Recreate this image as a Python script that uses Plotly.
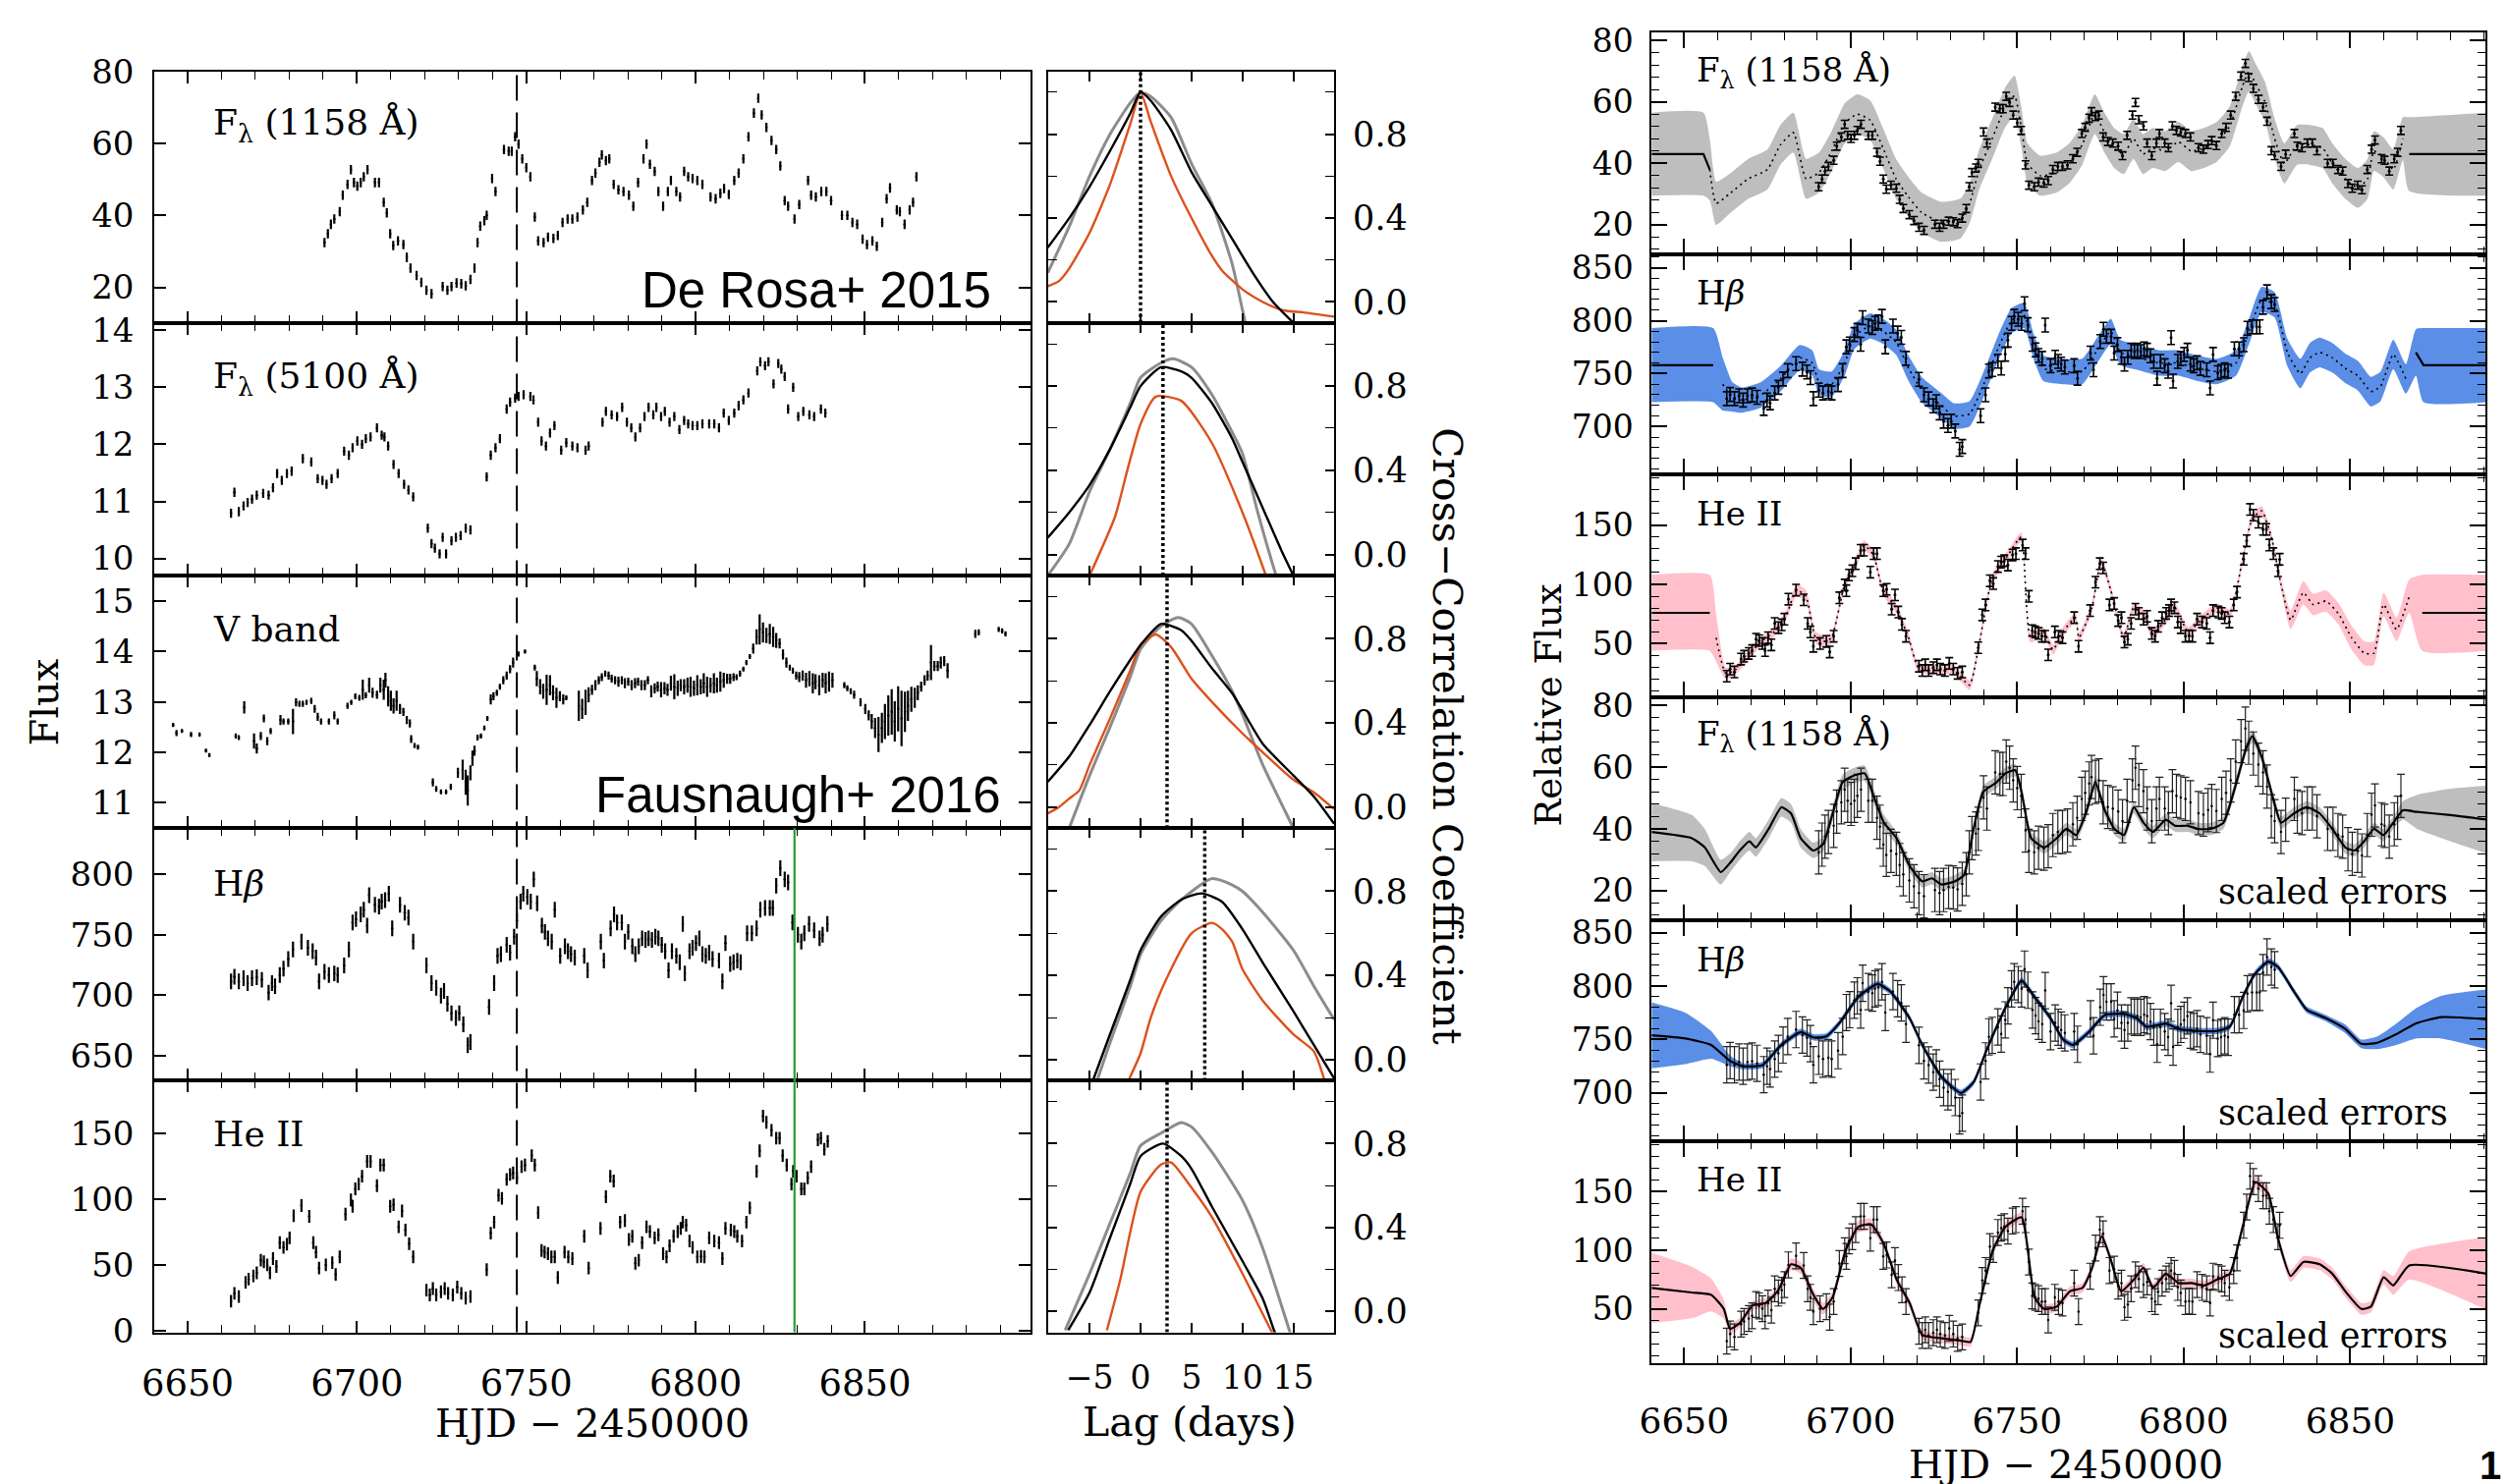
import plotly.graph_objects as go

W, H = 2553, 1511
SERIF = "DejaVu Serif"
SANS = "Liberation Sans"

# ---------------- light curves (left column) ----------------
F1158_HJD = [6690.4, 6691.4, 6692.3, 6693.3, 6694.9, 6695.8, 6697.2, 6698.2, 6699.1, 6700.1,
             6701.1, 6702.0, 6703.1, 6705.3, 6706.5, 6707.9, 6708.8, 6709.8, 6710.7, 6712.1,
             6713.7, 6714.7, 6715.8, 6717.6, 6719.0, 6720.5, 6722.0, 6725.3, 6726.7, 6727.9,
             6729.4, 6730.8, 6732.1, 6733.5, 6734.7, 6735.6, 6736.4, 6737.6, 6738.3, 6739.9,
             6740.9, 6743.4, 6744.8, 6745.7, 6746.7, 6747.7, 6748.8, 6750.0, 6751.2, 6752.5,
             6753.5, 6755.1, 6756.4, 6758.0, 6759.3, 6760.7, 6762.2, 6763.6, 6765.1, 6766.7,
             6768.0, 6769.4, 6770.4, 6771.6, 6772.3, 6773.5, 6774.5, 6775.8, 6777.2, 6778.7,
             6780.3, 6781.6, 6783.0, 6784.6, 6785.5, 6786.5, 6787.9, 6789.0, 6790.4, 6791.8,
             6792.7, 6794.3, 6795.4, 6796.6, 6797.8, 6799.1, 6800.5, 6802.0, 6804.4, 6805.9,
             6807.3, 6808.4, 6809.8, 6811.4, 6812.7, 6814.1, 6815.6, 6817.2, 6818.5, 6819.5,
             6820.9, 6822.4, 6823.8, 6825.0, 6826.3, 6827.3, 6829.2, 6830.6, 6833.2, 6834.1,
             6835.5, 6837.1, 6838.6, 6840.0, 6843.2, 6844.8, 6846.3, 6847.7, 6849.3, 6850.6,
             6852.2, 6853.5, 6855.1, 6856.4, 6857.4, 6859.4, 6860.3, 6861.7, 6863.2, 6864.2,
             6865.2]
F1158_FLUX = [32.4, 34.9, 37.5, 39.0, 41.0, 45.6, 48.6, 52.7, 49.1, 48.1,
              49.1, 50.7, 52.7, 49.1, 49.1, 43.6, 40.7, 34.9, 31.6, 32.9,
              31.9, 28.3, 25.3, 23.3, 21.4, 19.2, 18.2, 20.2, 19.2, 20.2,
              21.2, 21.0, 20.4, 22.2, 25.3, 32.4, 37.0, 38.5, 40.0, 50.2,
              46.6, 58.3, 57.8, 57.8, 61.8, 59.8, 55.7, 53.2, 50.7, 39.5,
              32.9, 32.4, 33.9, 33.6, 34.4, 38.0, 39.0, 39.0, 39.5, 41.5,
              43.6, 49.7, 51.7, 54.7, 56.8, 55.2, 55.7, 48.6, 47.1, 46.6,
              45.6, 42.5, 49.1, 55.7, 59.8, 54.2, 52.2, 46.6, 42.5, 46.6,
              49.7, 46.6, 45.1, 52.2, 50.7, 50.2, 49.7, 48.6, 45.1, 44.6,
              46.1, 47.4, 45.8, 49.7, 51.7, 55.7, 61.8, 68.4, 72.5, 67.9,
              64.4, 60.8, 58.3, 53.7, 44.1, 42.5, 39.0, 43.0, 49.7, 45.6,
              45.1, 46.6, 46.6, 44.1, 40.0, 40.0, 38.0, 37.5, 33.4, 31.9,
              32.9, 31.4, 38.0, 44.6, 47.6, 41.5, 41.0, 37.5, 41.5, 43.6,
              50.7]
F1158_ERR = 1.3
F1158_ERR_SCALED = 7.0

F5100_HJD = [6662.8, 6663.8, 6665.1, 6666.5, 6667.7, 6669.0, 6670.4, 6672.3, 6673.9, 6675.2,
             6676.4, 6677.8, 6679.3, 6680.7, 6684.0, 6686.5, 6688.4, 6689.8, 6691.0, 6692.5,
             6694.3, 6696.2, 6697.6, 6698.7, 6700.1, 6701.5, 6702.6, 6704.0, 6705.9, 6707.3,
             6708.1, 6709.2, 6710.8, 6712.3, 6713.9, 6715.2, 6716.6, 6720.9, 6722.0, 6723.0,
             6724.4, 6725.3, 6726.3, 6727.9, 6729.2, 6730.6, 6732.1, 6733.5, 6738.3, 6739.5,
             6740.9, 6742.2, 6744.2, 6745.2, 6746.7, 6747.7, 6749.2, 6751.2, 6752.1, 6753.5,
             6754.5, 6755.8, 6757.0, 6758.3, 6760.3, 6761.8, 6763.6, 6765.1, 6767.5, 6768.4,
             6772.5, 6773.5, 6775.2, 6776.8, 6778.3, 6779.7, 6781.0, 6782.2, 6783.6, 6784.9,
             6786.1, 6787.5, 6788.4, 6789.8, 6790.9, 6792.3, 6793.7, 6795.2, 6796.6, 6797.8,
             6799.1, 6800.5, 6802.0, 6804.0, 6805.5, 6806.9, 6808.3, 6809.8, 6811.4, 6812.7,
             6814.1, 6815.6, 6818.2, 6819.1, 6820.5, 6821.5, 6823.0, 6824.4, 6825.3, 6826.3,
             6827.3, 6828.8, 6830.3, 6831.8, 6833.6, 6835.0, 6837.0, 6838.3]
F5100_FLUX = [10.79, 11.16, 10.82, 10.92, 10.98, 11.04, 11.11, 11.14, 11.11, 11.24,
              11.49, 11.37, 11.49, 11.53, 11.75, 11.69, 11.40, 11.37, 11.30, 11.40,
              11.49, 11.88, 11.81, 11.94, 12.06, 12.00, 12.10, 12.13, 12.29, 12.16,
              12.13, 11.97, 11.65, 11.49, 11.30, 11.20, 11.08, 10.53, 10.26, 10.18,
              10.08, 10.37, 10.08, 10.31, 10.37, 10.40, 10.53, 10.50, 11.43, 11.81,
              11.94, 12.10, 12.62, 12.74, 12.81, 12.84, 12.87, 12.84, 12.78, 12.39,
              12.06, 11.97, 12.20, 12.33, 11.90, 12.03, 11.97, 11.94, 11.90, 11.97,
              12.39, 12.58, 12.52, 12.49, 12.65, 12.39, 12.29, 12.13, 12.29, 12.49,
              12.65, 12.52, 12.65, 12.49, 12.58, 12.39, 12.49, 12.26, 12.42, 12.36,
              12.33, 12.33, 12.36, 12.36, 12.36, 12.29, 12.55, 12.42, 12.55, 12.68,
              12.78, 12.90, 13.29, 13.45, 13.38, 13.45, 13.06, 13.42, 13.32, 13.19,
              12.62, 13.00, 12.49, 12.58, 12.52, 12.49, 12.62, 12.55]
F5100_ERR = 0.08

V_HJD = [6645.7, 6646.7, 6648.3, 6651.0, 6653.5, 6655.4, 6656.4, 6664.2, 6665.1, 6666.7,
         6669.6, 6670.4, 6671.6, 6672.5, 6673.5, 6674.5, 6677.4, 6678.3, 6679.7, 6681.1,
         6682.0, 6683.0, 6684.0, 6685.1, 6686.5, 6687.5, 6688.4, 6689.4, 6691.7, 6693.3,
         6694.3, 6697.2, 6698.3, 6699.5, 6700.7, 6701.7, 6702.6, 6703.6, 6704.6, 6705.9,
         6706.9, 6707.9, 6708.4, 6709.2, 6710.0, 6710.8, 6711.7, 6712.7, 6713.7, 6714.7,
         6715.6, 6716.0, 6717.0, 6718.0, 6722.4, 6723.4, 6724.8, 6726.3, 6727.7, 6729.8,
         6731.2, 6732.1, 6732.7, 6733.5, 6734.1, 6734.7, 6735.6, 6736.6, 6737.6, 6738.5,
         6739.5, 6740.3, 6741.3, 6742.2, 6743.2, 6744.2, 6745.2, 6746.1, 6747.7, 6749.6,
         6752.5, 6753.1, 6754.1, 6755.0, 6756.0, 6757.0, 6757.9, 6758.9, 6759.9, 6760.9,
         6761.8, 6765.5, 6766.5, 6767.5, 6768.4, 6769.4, 6770.4, 6771.4, 6772.3, 6773.3,
         6774.3, 6775.2, 6776.2, 6777.2, 6778.2, 6779.1, 6780.1, 6781.1, 6782.1, 6783.0,
         6784.0, 6785.0, 6785.9, 6786.9, 6787.9, 6788.8, 6789.8, 6790.8, 6791.7, 6792.7,
         6793.7, 6794.7, 6795.6, 6796.6, 6797.6, 6798.5, 6799.5, 6800.5, 6801.5, 6802.4,
         6803.4, 6804.4, 6805.4, 6806.3, 6807.3, 6808.3, 6809.3, 6810.2, 6811.2, 6812.1,
         6813.1, 6814.1, 6815.0, 6816.0, 6817.0, 6818.0, 6818.9, 6819.9, 6820.9, 6821.9,
         6822.9, 6823.8, 6824.8, 6825.8, 6826.8, 6827.8, 6828.7, 6829.7, 6830.6, 6831.6,
         6832.6, 6833.6, 6834.6, 6835.4, 6836.5, 6837.5, 6838.4, 6839.4, 6840.4, 6843.9,
         6844.8, 6845.8, 6846.8, 6848.7, 6850.1, 6851.1, 6852.0, 6853.0, 6854.0, 6855.0,
         6855.9, 6856.9, 6857.9, 6858.8, 6859.8, 6860.8, 6861.8, 6862.7, 6863.7, 6864.7,
         6865.6, 6866.6, 6867.6, 6868.5, 6869.5, 6870.5, 6871.5, 6872.4, 6873.4, 6874.4,
         6882.6, 6883.6, 6889.5, 6890.5, 6891.5]
V_FLUX = [12.54, 12.38, 12.42, 12.35, 12.35, 12.03, 11.94, 12.32, 12.29, 12.89,
          12.22, 12.07, 12.32, 12.67, 12.22, 12.42, 12.64, 12.61, 12.61, 12.61,
          12.99, 12.96, 12.96, 12.99, 13.02, 12.86, 12.70, 12.61, 12.61, 12.73,
          12.61, 12.92, 12.99, 13.11, 13.08, 13.24, 13.13, 13.33, 13.18, 13.14,
          13.33, 13.24, 13.43, 13.11, 13.02, 12.92, 13.02, 12.86, 12.80, 12.64,
          12.57, 12.26, 12.13, 12.10, 11.40, 11.27, 11.21, 11.21, 11.31, 11.59,
          11.65, 11.40, 11.24, 11.59, 11.88, 12.03, 12.29, 12.32, 12.48, 12.67,
          13.05, 13.11, 13.18, 13.30, 13.43, 13.52, 13.65, 13.78, 13.95, 14.00,
          13.68, 13.46, 13.30, 13.21, 13.24, 13.33, 13.18, 13.08, 13.11, 13.05,
          13.08, 12.92, 12.86, 12.99, 13.14, 13.24, 13.33, 13.43, 13.49, 13.56,
          13.52, 13.46, 13.43, 13.40, 13.43, 13.37, 13.40, 13.33, 13.37, 13.40,
          13.33, 13.33, 13.43, 13.21, 13.27, 13.30, 13.24, 13.27, 13.24, 13.37,
          13.30, 13.27, 13.33, 13.30, 13.33, 13.30, 13.27, 13.33, 13.30, 13.37,
          13.30, 13.33, 13.37, 13.33, 13.40, 13.43, 13.46, 13.46, 13.49, 13.49,
          13.56, 13.65, 13.78, 13.90, 14.06, 14.29, 14.44, 14.38, 14.32, 14.35,
          14.29, 14.22, 14.16, 13.94, 13.78, 13.68, 13.62, 13.52, 13.49, 13.52,
          13.43, 13.46, 13.37, 13.40, 13.33, 13.43, 13.37, 13.40, 13.43, 13.33,
          13.27, 13.21, 13.14, 12.99, 12.86, 12.73, 12.61, 12.48, 12.35, 12.48,
          12.61, 12.73, 12.80, 12.61, 12.86, 12.67, 12.80, 12.92, 13.05, 13.08,
          13.18, 13.30, 13.43, 13.52, 13.78, 13.71, 13.71, 13.78, 13.81, 13.62,
          14.35, 14.38, 14.44, 14.41, 14.35]
V_ERR = [0.04, 0.06, 0.04, 0.05, 0.04, 0.04, 0.04, 0.05, 0.05, 0.12,
         0.15, 0.10, 0.08, 0.08, 0.08, 0.06, 0.10, 0.06, 0.06, 0.25,
         0.08, 0.06, 0.06, 0.05, 0.06, 0.08, 0.08, 0.06, 0.06, 0.08,
         0.06, 0.06, 0.05, 0.06, 0.06, 0.20, 0.06, 0.15, 0.10, 0.08,
         0.15, 0.20, 0.15, 0.20, 0.20, 0.15, 0.20, 0.10, 0.08, 0.08,
         0.08, 0.08, 0.05, 0.05, 0.08, 0.06, 0.05, 0.05, 0.06, 0.10,
         0.20, 0.25, 0.30, 0.15, 0.15, 0.10, 0.06, 0.05, 0.05, 0.05,
         0.10, 0.08, 0.06, 0.06, 0.08, 0.08, 0.08, 0.10, 0.05, 0.04,
         0.06, 0.15, 0.15, 0.15, 0.30, 0.20, 0.15, 0.20, 0.10, 0.10,
         0.05, 0.30, 0.20, 0.25, 0.15, 0.10, 0.10, 0.08, 0.08, 0.06,
         0.08, 0.08, 0.08, 0.10, 0.08, 0.10, 0.08, 0.10, 0.10, 0.08,
         0.10, 0.10, 0.08, 0.12, 0.10, 0.10, 0.15, 0.12, 0.12, 0.15,
         0.25, 0.15, 0.12, 0.15, 0.15, 0.20, 0.15, 0.20, 0.15, 0.20,
         0.20, 0.15, 0.20, 0.15, 0.20, 0.15, 0.10, 0.10, 0.08, 0.06,
         0.06, 0.05, 0.05, 0.05, 0.10, 0.15, 0.30, 0.20, 0.15, 0.20,
         0.20, 0.15, 0.10, 0.10, 0.10, 0.06, 0.06, 0.08, 0.10, 0.10,
         0.15, 0.15, 0.20, 0.15, 0.20, 0.15, 0.20, 0.20, 0.15, 0.06,
         0.06, 0.06, 0.08, 0.08, 0.10, 0.10, 0.15, 0.20, 0.35, 0.30,
         0.35, 0.40, 0.45, 0.40, 0.45, 0.55, 0.40, 0.30, 0.25, 0.20,
         0.15, 0.10, 0.10, 0.10, 0.35, 0.10, 0.10, 0.12, 0.10, 0.15,
         0.08, 0.06, 0.05, 0.05, 0.05]

HB_HJD = [6662.8, 6663.8, 6665.1, 6666.5, 6667.7, 6669.0, 6670.4, 6671.9, 6673.9, 6674.9,
          6675.8, 6677.2, 6678.3, 6679.7, 6681.1, 6683.6, 6685.5, 6686.9, 6687.9, 6688.8,
          6690.4, 6691.7, 6693.3, 6694.3, 6696.2, 6697.6, 6698.7, 6699.7, 6701.1, 6702.0,
          6703.0, 6703.6, 6705.3, 6706.5, 6707.3, 6708.3, 6709.4, 6710.4, 6712.7, 6714.1,
          6715.2, 6716.6, 6720.5, 6722.0, 6723.4, 6724.8, 6725.7, 6726.7, 6727.9, 6729.2,
          6730.2, 6731.4, 6732.7, 6733.5, 6739.0, 6740.5, 6741.5, 6742.5, 6744.2, 6745.2,
          6746.4, 6747.2, 6748.3, 6749.1, 6750.3, 6751.3, 6752.2, 6753.2, 6754.6, 6755.5,
          6756.4, 6757.5, 6758.4, 6760.0, 6761.4, 6762.3, 6763.2, 6764.3, 6767.1, 6768.1,
          6772.0, 6772.9, 6774.9, 6775.9, 6776.8, 6778.2, 6779.1, 6780.1, 6781.3, 6782.2,
          6783.2, 6784.2, 6785.2, 6786.1, 6787.1, 6788.1, 6789.0, 6790.0, 6791.0, 6792.0,
          6793.0, 6794.3, 6795.3, 6796.2, 6796.8, 6798.2, 6799.1, 6800.1, 6801.1, 6802.0,
          6803.0, 6804.0, 6805.0, 6806.9, 6807.9, 6808.8, 6810.2, 6811.2, 6812.3, 6813.3,
          6815.2, 6816.6, 6818.0, 6819.1, 6820.5, 6821.9, 6822.8, 6823.8, 6825.0, 6826.3,
          6827.3, 6828.6, 6830.2, 6831.2, 6832.1, 6833.5, 6835.0, 6836.6, 6837.5, 6838.9]
HB_FLUX = [711.4, 715.3, 711.4, 714.0, 710.0, 714.0, 714.8, 712.7, 702.1, 710.0,
           707.4, 716.7, 722.0, 729.9, 737.8, 744.4, 739.2, 736.5, 731.2, 711.4,
           719.3, 716.7, 718.0, 716.7, 724.6, 737.8, 760.3, 763.0, 766.9, 770.9,
           757.7, 782.8, 774.9, 773.5, 777.5, 778.8, 784.1, 755.3, 774.9, 768.3,
           764.3, 744.4, 724.6, 710.0, 706.1, 699.5, 703.4, 692.9, 685.0, 681.0,
           685.0, 675.7, 658.5, 661.1, 690.2, 710.0, 732.5, 733.9, 741.8, 735.2,
           748.4, 761.6, 777.5, 784.1, 781.5, 777.5, 796.0, 776.2, 757.7, 752.4,
           747.1, 744.4, 770.9, 732.5, 740.5, 736.5, 733.9, 731.2, 732.5, 720.6,
           744.4, 728.6, 755.3, 766.9, 760.3, 760.3, 744.4, 752.4, 740.5, 733.9,
           740.5, 747.1, 745.8, 747.1, 745.8, 748.4, 747.1, 741.8, 736.5, 720.6,
           736.5, 732.5, 727.2, 759.0, 718.0, 736.5, 739.2, 743.1, 747.1, 733.9,
           732.5, 735.2, 729.9, 728.6, 711.4, 743.1, 725.9, 727.2, 728.6, 727.2,
           751.3, 751.3, 755.3, 770.9, 772.2, 772.2, 772.2, 790.7, 805.3, 796.0,
           793.4, 760.3, 750.0, 744.4, 751.3, 759.0, 753.7, 747.1, 750.0, 759.0]
HB_ERR = 6.5
HB_ERR_SCALED = 17.0

# H-beta as plotted in the right-hand (model) column: fluxes read there, epochs before HJD 6828
HB_R_FLUX = [726.4, 730.3, 726.4, 729.0, 725.0, 729.0, 729.8, 727.7, 717.1, 725.0,
             722.4, 731.7, 737.0, 744.9, 752.8, 759.4, 754.2, 751.5, 746.2, 726.4,
             734.3, 731.7, 733.0, 731.7, 739.6, 752.8, 775.3, 778.0, 786.9, 790.9,
             777.7, 802.8, 794.9, 793.5, 797.5, 798.8, 804.1, 775.3, 794.9, 788.3,
             784.3, 764.4, 744.6, 730.0, 726.1, 719.5, 723.4, 712.9, 705.0, 701.0,
             705.0, 695.7, 678.5, 681.1, 710.2, 730.0, 752.5, 753.9, 761.8, 755.2,
             768.4, 781.6, 797.5, 804.1, 801.5, 797.5, 816.0, 796.2, 777.7, 772.4,
             767.1, 764.4, 795.9, 757.5, 765.5, 761.5, 758.9, 756.2, 757.5, 745.6,
             769.4, 753.6, 780.3, 791.9, 785.3, 785.3, 769.4, 777.4, 765.5, 758.9,
             765.5, 772.1, 770.8, 772.1, 770.8, 773.4, 772.1, 766.8, 761.5, 745.6,
             761.5, 757.5, 752.2, 784.0, 743.0, 761.5, 764.2, 768.1, 772.1, 758.9,
             757.5, 760.2, 754.9, 753.6, 736.4, 768.1, 750.9, 752.2, 753.6, 752.2,
             773.3, 773.3, 777.3, 792.9, 794.2, 794.2, 794.2, 812.7, 827.3, 818.0,
             815.4]

HE_HJD = [6662.8, 6663.8, 6665.1, 6667.1, 6668.0, 6669.4, 6670.4, 6671.6, 6672.5, 6673.5,
          6674.3, 6675.2, 6676.2, 6677.2, 6678.3, 6679.3, 6680.1, 6681.3, 6683.6, 6685.9,
          6687.1, 6687.9, 6688.8, 6690.8, 6692.7, 6693.7, 6694.9, 6696.6, 6698.2, 6698.7,
          6699.5, 6700.5, 6701.5, 6703.0, 6704.0, 6705.9, 6706.9, 6707.9, 6709.8, 6710.8,
          6712.3, 6713.3, 6714.3, 6715.4, 6716.6, 6720.5, 6721.5, 6722.4, 6723.4, 6724.8,
          6725.9, 6726.9, 6728.3, 6729.6, 6730.8, 6732.1, 6733.5, 6738.3, 6739.5, 6740.5,
          6741.8, 6742.8, 6744.2, 6745.2, 6746.1, 6747.2, 6748.6, 6749.6, 6751.6, 6752.5,
          6753.5, 6754.5, 6755.4, 6756.4, 6757.4, 6758.4, 6759.3, 6761.3, 6762.4, 6763.6,
          6767.1, 6768.4, 6771.9, 6773.5, 6774.8, 6775.8, 6777.7, 6779.1, 6780.3, 6781.3,
          6782.2, 6783.2, 6784.2, 6785.5, 6786.5, 6787.9, 6789.0, 6790.4, 6791.4, 6792.3,
          6793.5, 6794.7, 6795.6, 6796.2, 6797.2, 6798.2, 6799.1, 6800.5, 6801.6, 6802.6,
          6804.0, 6805.5, 6806.9, 6807.9, 6808.8, 6810.4, 6811.4, 6812.3, 6813.7, 6815.0,
          6816.0, 6818.0, 6818.9, 6819.9, 6820.9, 6822.4, 6823.8, 6824.8, 6825.7, 6826.9,
          6828.3, 6828.8, 6829.8, 6831.2, 6832.1, 6833.1, 6834.1, 6836.1, 6837.0, 6838.0,
          6839.0]
HE_FLUX = [22.6, 28.6, 26.2, 37.0, 39.4, 41.8, 44.2, 53.8, 52.6, 50.2,
           44.2, 55.0, 49.0, 67.1, 63.5, 65.9, 70.7, 87.5, 95.2, 87.0,
           67.1, 59.9, 47.8, 50.2, 51.9, 43.0, 56.3, 88.7, 99.5, 94.7,
           107.9, 111.5, 117.5, 128.8, 128.8, 110.3, 126.0, 126.0, 94.7, 95.9,
           79.1, 91.1, 76.7, 66.3, 56.3, 31.0, 27.4, 32.2, 27.4, 29.8,
           32.2, 28.6, 27.4, 33.4, 28.6, 25.0, 26.2, 46.6, 74.3, 82.7,
           103.1, 100.7, 115.1, 118.8, 120.0, 116.3, 124.8, 126.0, 133.2, 126.0,
           89.9, 61.1, 59.9, 58.7, 56.3, 56.3, 40.6, 59.9, 56.3, 55.0,
           71.9, 47.8, 77.9, 101.9, 117.5, 113.9, 82.7, 83.9, 69.5, 71.9,
           51.4, 53.8, 67.1, 79.1, 75.5, 70.7, 73.1, 58.7, 56.3, 64.7,
           71.9, 75.5, 77.9, 82.7, 80.3, 68.3, 63.5, 56.3, 56.7, 56.3,
           70.7, 68.3, 67.1, 55.0, 77.9, 76.7, 75.5, 71.9, 68.3, 82.7,
           93.5, 121.2, 136.8, 163.2, 158.4, 152.4, 146.4, 146.4, 133.2, 126.0,
           111.5, 121.2, 117.5, 107.9, 107.9, 116.3, 124.8, 145.2, 146.4, 138.0,
           144.0]
HE_ERR = 4.8
HE_ERR_SCALED = 11.0

MARK_DASHED_HJD = 6747.2
MARK_GREEN_HJD = 6829.2
MODEL_LINE_END_HJD = 6829.0   # line light curves used by the models end here

# ---------------- cross-correlation functions ----------------
CCF_LAG_PEAK = [0.0, 2.2, 2.6, 6.3, 2.6]
CCF_BLACK_LAG = [[-9.1, -7, -5, -3, -1, 0, 1, 3, 5, 7, 9, 11, 13, 15, 17],
                 [-9.1, -7, -5, -3, -1, 0, 2, 4, 5, 7, 9, 10, 12, 14, 15, 16],
                 [-9.1, -7, -5, -3, -1, 0, 2, 4, 5, 7, 9, 10, 12, 15, 17, 19],
                 [-4.6, -3, -1, 0, 2, 4, 6, 8, 10, 12, 15, 17, 19],
                 [-7.1, -5, -3, -1, 0, 2.2, 4, 5, 7, 10, 12, 13.1, 14]]
CCF_BLACK_R = [[0.26, 0.40, 0.55, 0.72, 0.90, 1.0, 0.96, 0.82, 0.62, 0.46, 0.30, 0.14, 0.0, -0.1, -0.2],
               [0.08, 0.20, 0.33, 0.50, 0.70, 0.80, 0.89, 0.87, 0.84, 0.72, 0.55, 0.44, 0.22, 0.0, -0.1, -0.2],
               [0.12, 0.24, 0.39, 0.55, 0.70, 0.77, 0.87, 0.84, 0.79, 0.66, 0.54, 0.46, 0.30, 0.15, 0.05, -0.08],
               [-0.09, 0.12, 0.38, 0.52, 0.68, 0.76, 0.79, 0.75, 0.62, 0.46, 0.23, 0.07, -0.09],
               [-0.09, 0.09, 0.35, 0.61, 0.74, 0.80, 0.74, 0.68, 0.50, 0.24, 0.06, -0.09, -0.2]]
CCF_GRAY_LAG = [[-9.1, -7, -5, -3, -1, 0, 1, 3, 5, 7, 9, 10.3, 11],
                [-9.1, -7, -5, -3, -1, 0, 2, 3.2, 5, 7, 9, 10, 11.5, 13.3, 14],
                [-7, -5, -3, -1, 0, 2, 3.7, 5, 7, 9, 10, 12, 15, 16],
                [-4.2, -3, -1, 0, 2, 4, 7, 9, 10, 12, 15, 17, 19],
                [-7.4, -5, -3, -1, 0, 2, 4, 5, 7, 10, 12, 14.6, 15]]
CCF_GRAY_R = [[0.14, 0.36, 0.60, 0.80, 0.95, 1.0, 0.98, 0.88, 0.66, 0.47, 0.18, -0.1, -0.2],
              [-0.1, 0.05, 0.30, 0.50, 0.72, 0.84, 0.91, 0.93, 0.89, 0.76, 0.58, 0.48, 0.20, -0.1, -0.2],
              [-0.1, 0.15, 0.38, 0.62, 0.75, 0.86, 0.90, 0.87, 0.72, 0.55, 0.44, 0.20, -0.1, -0.2],
              [-0.09, 0.08, 0.35, 0.50, 0.66, 0.76, 0.86, 0.83, 0.80, 0.70, 0.52, 0.35, 0.19],
              [-0.09, 0.18, 0.42, 0.66, 0.79, 0.85, 0.90, 0.88, 0.76, 0.53, 0.30, -0.09, -0.15]]
CCF_ORANGE_LAG = [[-9.1, -8, -7, -5, -3, -1, 0, 1, 3, 5, 7, 8, 10, 12, 14, 16, 19],
                  [-5, -2.5, -1.3, 0, 1.5, 4, 7, 10, 12.3, 13],
                  [-9.1, -8, -7, -6, -5, -3, -1, 0, 1.5, 3, 5, 7, 10, 12, 15, 17, 19],
                  [-1.1, 0, 1, 2.5, 5, 7, 8, 9, 10, 12, 15, 17, 18],
                  [-3.3, -2, 0, 2, 3, 5, 7, 10, 12.8, 13.5]]
CCF_ORANGE_R = [[0.075, 0.10, 0.16, 0.33, 0.56, 0.85, 1.0, 0.86, 0.60, 0.40, 0.22, 0.15, 0.06, 0.0, -0.04, -0.05, -0.07],
                [-0.1, 0.18, 0.40, 0.62, 0.75, 0.73, 0.53, 0.20, -0.1, -0.2],
                [-0.03, 0.0, 0.04, 0.08, 0.20, 0.42, 0.65, 0.77, 0.82, 0.76, 0.61, 0.50, 0.35, 0.26, 0.13, 0.07, -0.01],
                [-0.09, 0.03, 0.20, 0.38, 0.60, 0.65, 0.62, 0.56, 0.43, 0.28, 0.12, 0.04, -0.09],
                [-0.09, 0.15, 0.57, 0.70, 0.71, 0.59, 0.45, 0.18, -0.09, -0.15]]

# ---------------- model fits (right column) ----------------
R1_T = [6640, 6655.8, 6657.7, 6659.6, 6663.5, 6669.3, 6675.0, 6678.9, 6682.8, 6686.6,
        6690.5, 6694.3, 6698.2, 6702.0, 6705.9, 6709.7, 6713.6, 6717.4, 6721.3, 6727.1,
        6732.9, 6735.7, 6738.6, 6742.5, 6746.3, 6749.2, 6751.2, 6753.1, 6756.9, 6761.8,
        6765.6, 6769.5, 6773.3, 6776.2, 6779.1, 6782.0, 6784.9, 6787.8, 6790.7, 6794.5,
        6798.4, 6802.2, 6806.1, 6809.9, 6813.8, 6817.6, 6819.6, 6821.5, 6824.4, 6827.3,
        6830.2, 6834.0, 6837.9, 6841.7, 6844.6, 6848.5, 6852.3, 6855.2, 6857.1, 6860.0,
        6862.9, 6865.8, 6867.7, 6891.0]
R1_MEAN = [43, 43, 38, 27, 30, 35, 38, 46, 50, 35,
           37, 44, 53, 56, 54, 45, 35, 29, 24, 21,
           22, 27, 38, 48, 58, 62, 52, 40, 36, 37,
           40, 46, 56, 50, 45, 43, 48, 43, 45, 44,
           47, 44, 45, 47, 52, 65, 70, 66, 60, 48,
           40, 46, 46, 45, 40, 35, 32, 35, 44, 42,
           38, 48, 43, 43]
R1_HW = [13.5, 13.5, 10, 7, 6.5, 6.5, 6.5, 6.5, 6.5, 6.5,
         6.5, 6.5, 6.5, 6.5, 6.5, 6.5, 6.5, 6.5, 6.5, 6.5,
         6.5, 6.5, 6.5, 6.5, 6.5, 6.5, 6.5, 6.5, 6.5, 6.5,
         6.5, 6.5, 6.5, 6.5, 6.5, 6.5, 6.5, 6.5, 6.5, 6.5,
         6.5, 6.5, 6.5, 6.5, 6.5, 6.5, 6.5, 6.5, 6.5, 6.5,
         6.5, 6.5, 6.5, 6.5, 6.5, 6.5, 6.5, 6.5, 6.5, 6.5,
         6.5, 7, 12, 13.5]

R2_T = [6640, 6658.7, 6661.6, 6664.5, 6667.3, 6673.1, 6678.9, 6684.7, 6688.5, 6690.5,
        6694.3, 6698.2, 6701.1, 6705.9, 6709.7, 6713.6, 6717.4, 6721.3, 6727.1, 6730.9,
        6735.7, 6740.6, 6744.4, 6748.3, 6752.1, 6755.0, 6757.9, 6763.7, 6769.5, 6775.2,
        6778.1, 6781.0, 6786.8, 6792.6, 6798.4, 6804.1, 6809.9, 6815.7, 6819.6, 6823.4,
        6827.3, 6831.1, 6835.0, 6837.9, 6840.8, 6844.6, 6848.5, 6852.3, 6856.2, 6859.1,
        6862.9, 6866.7, 6869.7, 6872.0, 6891.0]
R2_MEAN = [758, 758, 740, 728, 725, 730, 745, 765, 760, 742,
           740, 760, 785, 795, 790, 780, 755, 735, 720, 710,
           712, 745, 775, 800, 805, 775, 755, 752, 752, 778,
           790, 770, 765, 760, 760, 755, 752, 760, 790, 820,
           815, 770, 750, 765, 770, 765, 755, 748, 733, 738,
           768, 745, 770, 758, 758]
R2_HW = [35, 35, 25, 14, 12, 12, 12, 12, 12, 12,
         12, 12, 12, 12, 12, 12, 12, 12, 12, 12,
         12, 12, 12, 12, 12, 12, 12, 12, 12, 12,
         12, 12, 12, 12, 12, 12, 12, 12, 12, 12,
         12, 13, 14, 14, 14, 14, 14, 14, 14, 14,
         14, 14, 22, 35, 35]

R3_T = [6640, 6657.7, 6659.6, 6662.5, 6665.4, 6669.3, 6673.1, 6677.0, 6680.8, 6683.7,
        6686.6, 6689.5, 6692.4, 6694.3, 6698.2, 6701.1, 6704.0, 6706.8, 6709.7, 6713.6,
        6717.4, 6720.3, 6725.1, 6730.9, 6735.7, 6738.6, 6742.5, 6747.3, 6751.2, 6754.0,
        6757.9, 6760.8, 6763.7, 6767.5, 6768.5, 6772.4, 6775.2, 6778.1, 6782.0, 6784.9,
        6787.8, 6790.7, 6794.5, 6797.4, 6801.3, 6805.1, 6809.9, 6813.8, 6817.6, 6820.5,
        6823.4, 6826.3, 6829.2, 6832.1, 6835.9, 6838.9, 6842.7, 6846.5, 6850.4, 6854.2,
        6857.1, 6860.0, 6863.9, 6867.7, 6871.6, 6891.0]
R3_MEAN = [76, 76, 55, 25, 28, 40, 52, 60, 75, 95,
           90, 55, 52, 55, 100, 115, 133, 125, 95, 80,
           55, 30, 28, 28, 15, 50, 105, 125, 140, 55,
           60, 45, 60, 72, 55, 80, 120, 95, 55, 80,
           75, 58, 70, 80, 60, 70, 80, 75, 120, 155,
           162, 140, 100, 70, 93, 83, 86, 75, 55, 42,
           42, 83, 62, 90, 76, 76]
R3_HW = [32, 32, 20, 5, 4, 4, 4, 4, 4, 5,
         5, 5, 5, 4, 4, 4, 4, 4, 4, 4,
         4, 4, 4, 4, 4, 4, 4, 4, 4, 4,
         4, 4, 4, 4, 4, 4, 4, 4, 4, 4,
         4, 4, 4, 4, 4, 4, 4, 4, 4, 4,
         4, 4, 5, 8, 10, 9, 9, 9, 10, 10,
         10, 10, 10, 14, 32, 32]

R4_T = [6640, 6652.3, 6656.2, 6661.0, 6663.8, 6666.7, 6669.6, 6671.5, 6675.4, 6679.2,
        6682.1, 6685.0, 6688.8, 6691.7, 6694.6, 6697.5, 6700.4, 6704.2, 6707.1, 6710.0,
        6713.8, 6717.7, 6721.5, 6724.4, 6727.3, 6731.2, 6734.0, 6736.9, 6739.8, 6743.7,
        6746.5, 6749.4, 6751.3, 6754.2, 6758.1, 6761.9, 6764.8, 6767.7, 6770.6, 6773.5,
        6776.3, 6779.2, 6782.1, 6785.0, 6787.9, 6790.8, 6794.6, 6797.5, 6801.3, 6804.2,
        6808.1, 6811.9, 6815.8, 6818.7, 6820.6, 6823.5, 6827.3, 6829.2, 6833.1, 6836.9,
        6840.8, 6844.6, 6848.5, 6851.3, 6854.2, 6857.1, 6860.0, 6862.9, 6865.8, 6870.0,
        6880.0, 6891.0]
R4_MEAN = [39, 37, 34, 26, 29, 33, 36, 34, 40, 47,
           45, 37, 33, 35, 45, 55, 57, 58, 50, 42,
           37, 28, 23, 24, 22, 23, 25, 40, 52, 55,
           58, 59, 52, 37, 34, 37, 40, 38, 45, 55,
           46, 40, 38, 47, 42, 39, 43, 41, 41, 40,
           40, 42, 55, 66, 70, 63, 48, 42, 45, 47,
           45, 40, 34, 33, 36, 40, 38, 42, 46, 45.5,
           44.5, 43]
R4_HW = [9.5, 7.5, 6, 4, 3, 3, 3, 3, 3, 3,
         3, 3, 2.5, 2.5, 2.5, 2.5, 2.5, 2.5, 2.5, 2.5,
         2, 2, 2, 2, 2, 2, 2, 2, 2, 2,
         2, 2, 2, 2, 2, 2, 2, 2, 2, 2,
         2, 2, 2, 2, 2, 2, 2, 2, 2, 2,
         2, 2, 2, 2, 2, 2, 2, 2, 2, 2,
         2, 2, 2, 2, 2, 2, 2, 2, 3, 5.5,
         8.5, 11]

R5_T = [6640, 6650.4, 6658.1, 6663.8, 6667.7, 6673.5, 6679.2, 6685.0, 6688.8, 6692.7,
        6696.5, 6702.3, 6708.1, 6711.9, 6717.7, 6721.5, 6727.3, 6733.1, 6736.9, 6740.8,
        6746.5, 6751.3, 6755.2, 6760.0, 6763.8, 6766.7, 6771.5, 6776.3, 6782.1, 6785.9,
        6788.8, 6794.6, 6798.5, 6804.2, 6810.0, 6813.8, 6817.7, 6821.5, 6825.4, 6828.3,
        6833.1, 6836.9, 6842.7, 6848.5, 6853.3, 6858.1, 6863.8, 6869.6, 6877.3, 6891.0]
R5_MEAN = [754, 751, 745, 730, 725, 726, 745, 757, 752, 753,
           765, 790, 802, 795, 770, 745, 715, 700, 710, 740,
           780, 805, 790, 770, 750, 745, 757, 773, 774, 770,
           762, 765, 760, 758, 758, 762, 790, 812, 823, 818,
           795, 778, 770, 760, 746, 747, 755, 765, 771, 769]
R5_HW = [31, 24, 13, 5, 3, 3, 3, 3, 3, 3,
         3, 3, 3, 3, 3, 3, 3, 3, 3, 3,
         3, 3, 3, 3, 3, 3, 3, 3, 3, 3,
         3, 3, 3, 3, 3, 3, 3, 3, 3, 3,
         3, 3, 3, 4, 4, 6, 10, 14, 20, 28]

R6_T = [6640, 6652.3, 6658.1, 6661.9, 6663.8, 6666.7, 6670.6, 6674.4, 6678.3, 6682.1,
        6685.0, 6688.8, 6691.7, 6694.6, 6698.5, 6702.3, 6706.2, 6710.0, 6713.8, 6717.7,
        6721.5, 6727.3, 6733.1, 6736.0, 6738.8, 6742.7, 6746.5, 6751.3, 6755.2, 6758.1,
        6761.9, 6765.8, 6769.6, 6772.5, 6775.4, 6778.3, 6781.2, 6785.0, 6787.9, 6790.8,
        6794.6, 6798.5, 6802.3, 6806.2, 6810.0, 6813.8, 6817.7, 6821.5, 6825.4, 6828.3,
        6832.1, 6835.9, 6840.8, 6844.6, 6848.5, 6853.3, 6856.2, 6860.0, 6862.9, 6867.7,
        6891.0]
R6_MEAN = [68, 64, 62, 50, 33, 38, 53, 55, 66, 88,
           85, 62, 50, 60, 100, 120, 122, 105, 75, 55,
           28, 25, 23, 22, 55, 100, 120, 128, 60, 50,
           52, 65, 68, 85, 112, 90, 65, 75, 85, 68,
           80, 72, 72, 70, 75, 80, 120, 158, 148, 110,
           78, 90, 88, 80, 65, 50, 52, 77, 70, 87,
           80]
R6_HW = [30, 22, 14, 8, 5, 4, 4, 4, 4, 5,
         5, 5, 5, 5, 5, 5, 5, 4, 4, 4,
         4, 4, 4, 4, 4, 4, 4, 4, 4, 4,
         4, 4, 4, 4, 4, 4, 4, 4, 4, 4,
         4, 4, 4, 4, 4, 4, 5, 5, 5, 5,
         5, 5, 5, 5, 5, 5, 5, 6, 8, 12,
         31]

for a, b in [(F1158_HJD, F1158_FLUX), (F5100_HJD, F5100_FLUX), (V_HJD, V_FLUX), (V_HJD, V_ERR),
             (HB_HJD, HB_FLUX), (HE_HJD, HE_FLUX),
             (R1_T, R1_MEAN), (R1_T, R1_HW), (R2_T, R2_MEAN), (R2_T, R2_HW), (R3_T, R3_MEAN), (R3_T, R3_HW),
             (R4_T, R4_MEAN), (R4_T, R4_HW), (R5_T, R5_MEAN), (R5_T, R5_HW), (R6_T, R6_MEAN), (R6_T, R6_HW)]:
    assert len(a) == len(b), (len(a), len(b))
for L, R in [(CCF_BLACK_LAG, CCF_BLACK_R), (CCF_GRAY_LAG, CCF_GRAY_R), (CCF_ORANGE_LAG, CCF_ORANGE_R)]:
    for a, b in zip(L, R):
        assert len(a) == len(b), (len(a), len(b))

# epochs used by the right-hand models
HB_R_HJD = HB_HJD[:len(HB_R_FLUX)]
HE_R = [(t, f) for t, f in zip(HE_HJD, HE_FLUX) if t < MODEL_LINE_END_HJD]
HE_R_HJD = [q[0] for q in HE_R]
HE_R_FLUX = [q[1] for q in HE_R]

# ---------------- layout helpers ----------------
LEFT_X = (145, 1041)
CCF_X = (1059, 1352)
RIGHT_X = (1677, 2530)
LEFT_Y = [54, 317, 581, 845, 1109, 1372]
RIGHT_Y = [13, 245, 475, 708, 941, 1172, 1404]


def names(i):
    s = '' if i == 1 else str(i)
    return 'x' + s, 'y' + s, 'xaxis' + s, 'yaxis' + s


def dx(a, b):
    return [a / W, b / W]


def dy(top, bot):
    return [1 - bot / H, 1 - top / H]


def axis(**kw):
    d = dict(showline=True, linecolor='black', linewidth=2, mirror='ticks', ticks='inside',
             tickcolor='black', tickwidth=1.6, showgrid=False, zeroline=False,
             tickfont=dict(family=SERIF, size=34, color='black'))
    d.update(kw)
    return d


def minor(dt, ln):
    return dict(dtick=dt, ticks='inside', ticklen=ln, tickwidth=1.4, tickcolor='black', showgrid=False)


fig = go.Figure()
layout = {}

# ---------------- left column ----------------
LEFT = [
    dict(x=F1158_HJD, y=F1158_FLUX, err=dict(type='constant', value=F1158_ERR), rng=[10.1, 80.0], dt=20),
    dict(x=F5100_HJD, y=F5100_FLUX, err=dict(type='constant', value=F5100_ERR), rng=[9.70, 14.13], dt=1),
    dict(x=V_HJD, y=V_FLUX, err=dict(type='data', array=V_ERR), rng=[10.49, 15.51], dt=1),
    dict(x=HB_HJD, y=HB_FLUX, err=dict(type='constant', value=HB_ERR), rng=[629, 838.5], dt=50),
    dict(x=HE_HJD, y=HE_FLUX, err=dict(type='constant', value=HE_ERR), rng=[-1, 190], dt=50),
]
for k, p in enumerate(LEFT):
    i = k + 1
    xa, ya, xk, yk = names(i)
    err = dict(p['err'], thickness=2.2, width=0, color='black')
    fig.add_trace(go.Scatter(x=p['x'], y=p['y'], mode='markers', marker=dict(size=2.5, color='black'),
                             error_y=err, xaxis=xa, yaxis=ya, hoverinfo='skip'))
    layout[xk] = axis(domain=dx(*LEFT_X), range=[6640.2, 6898.8], anchor=ya, dtick=50, tick0=6650,
                      ticklen=12, minor=minor(10, 8), showticklabels=(k == 4),
                      tickfont=dict(family=SERIF, size=37, color='black'), ticklabelstandoff=18)
    layout[yk] = axis(domain=dy(LEFT_Y[k], LEFT_Y[k + 1]), range=p['rng'], anchor=xa, dtick=p['dt'], tick0=0,
                      ticklen=12, ticklabelstandoff=12)

# ---------------- CCF column ----------------
for k in range(5):
    i = 6 + k
    xa, ya, xk, yk = names(i)
    fig.add_trace(go.Scatter(x=CCF_GRAY_LAG[k], y=CCF_GRAY_R[k], mode='lines',
                             line=dict(color='#8c8c8c', width=3, shape='spline', smoothing=0.6),
                             xaxis=xa, yaxis=ya, hoverinfo='skip'))
    fig.add_trace(go.Scatter(x=CCF_ORANGE_LAG[k], y=CCF_ORANGE_R[k], mode='lines',
                             line=dict(color='#DC511C', width=2.4, shape='spline', smoothing=0.6),
                             xaxis=xa, yaxis=ya, hoverinfo='skip'))
    fig.add_trace(go.Scatter(x=CCF_BLACK_LAG[k], y=CCF_BLACK_R[k], mode='lines',
                             line=dict(color='black', width=2.4, shape='spline', smoothing=0.6),
                             xaxis=xa, yaxis=ya, hoverinfo='skip'))
    layout[xk] = axis(domain=dx(*CCF_X), range=[-9.1, 19.0], anchor=ya, dtick=5, tick0=0, ticklen=10,
                      showticklabels=(k == 4), ticklabelstandoff=16,
                      tickfont=dict(family=SERIF, size=33, color='black'))
    layout[yk] = axis(domain=dy(LEFT_Y[k], LEFT_Y[k + 1]), range=[-0.1, 1.1], anchor=xa, side='right',
                      tickvals=[0, 0.4, 0.8], ticktext=['0.0', '0.4', '0.8'], ticklen=9,
                      minor=dict(tickvals=[0.2, 0.6, 1.0], ticks='inside', ticklen=9, tickwidth=1.4,
                                 tickcolor='black'),
                      ticklabelstandoff=10, tickfont=dict(family=SERIF, size=35, color='black'))

# ---------------- right column ----------------
RIGHT = [
    dict(t=R1_T, m=R1_MEAN, h=R1_HW, band='#bebebe', x=F1158_HJD, y=F1158_FLUX, e=F1158_ERR,
         rng=[10.5, 82.7], dt=20, mdt=4, dotted=(6657.7, 6866.0)),
    dict(t=R2_T, m=R2_MEAN, h=R2_HW, band='#5b8ee6', x=HB_R_HJD, y=HB_R_FLUX, e=HB_ERR,
         rng=[655, 863], dt=50, mdt=10, dotted=(6659.0, 6869.0)),
    dict(t=R3_T, m=R3_MEAN, h=R3_HW, band='#ffc0cb', x=HE_R_HJD, y=HE_R_FLUX, e=HE_ERR,
         rng=[5, 193], dt=50, mdt=10, dotted=(6658.0, 6869.0)),
    dict(t=R4_T, m=R4_MEAN, h=R4_HW, band='#bebebe', x=F1158_HJD, y=F1158_FLUX, e=F1158_ERR_SCALED,
         rng=[10.5, 82.7], dt=20, mdt=4, dotted=None),
    dict(t=R5_T, m=R5_MEAN, h=R5_HW, band='#5b8ee6', x=HB_R_HJD, y=HB_R_FLUX, e=HB_ERR_SCALED,
         rng=[655, 862], dt=50, mdt=10, dotted=None),
    dict(t=R6_T, m=R6_MEAN, h=R6_HW, band='#ffc0cb', x=HE_R_HJD, y=HE_R_FLUX, e=HE_ERR_SCALED,
         rng=[4, 193], dt=50, mdt=10, dotted=None),
]
for k, p in enumerate(RIGHT):
    i = 11 + k
    xa, ya, xk, yk = names(i)
    lo = [m - h for m, h in zip(p['m'], p['h'])]
    up = [m + h for m, h in zip(p['m'], p['h'])]
    fig.add_trace(go.Scatter(x=p['t'], y=lo, mode='lines', line=dict(width=0, shape='spline', smoothing=0.5),
                             xaxis=xa, yaxis=ya, hoverinfo='skip'))
    fig.add_trace(go.Scatter(x=p['t'], y=up, mode='lines', line=dict(width=0, shape='spline', smoothing=0.5),
                             fill='tonexty', fillcolor=p['band'], xaxis=xa, yaxis=ya, hoverinfo='skip'))
    thin = k >= 3
    fig.add_trace(go.Scatter(x=p['x'], y=p['y'], mode='markers',
                             marker=dict(size=2.5 if thin else 3, color='black'),
                             error_y=dict(type='constant', value=p['e'], thickness=1.2 if thin else 1.6,
                                          width=4, color='#222222' if thin else 'black'),
                             xaxis=xa, yaxis=ya, hoverinfo='skip'))
    if p['dotted'] is None:
        fig.add_trace(go.Scatter(x=p['t'], y=p['m'], mode='lines',
                                 line=dict(color='black', width=2.2, shape='spline', smoothing=0.5),
                                 xaxis=xa, yaxis=ya, hoverinfo='skip'))
    else:
        a, b = p['dotted']
        left_pts = [(t, m) for t, m in zip(p['t'], p['m']) if t <= a]
        right_pts = [(t, m) for t, m in zip(p['t'], p['m']) if t >= b]
        mid_pts = [(t, m) for t, m in zip(p['t'], p['m']) if a <= t <= b]
        segx = [q[0] for q in left_pts] + [None] + [q[0] for q in right_pts]
        segy = [q[1] for q in left_pts] + [None] + [q[1] for q in right_pts]
        fig.add_trace(go.Scatter(x=segx, y=segy, mode='lines', connectgaps=False,
                                 line=dict(color='black', width=2.2), xaxis=xa, yaxis=ya, hoverinfo='skip'))
        fig.add_trace(go.Scatter(x=[q[0] for q in mid_pts], y=[q[1] for q in mid_pts], mode='lines',
                                 line=dict(color='black', width=1.6, dash='2px,4px', shape='spline', smoothing=0.5),
                                 xaxis=xa, yaxis=ya, hoverinfo='skip'))
    layout[xk] = axis(domain=dx(*RIGHT_X), range=[6640.3, 6890.6], anchor=ya, dtick=50, tick0=6650,
                      ticklen=16, minor=minor(10, 8), showticklabels=(k == 5), ticklabelstandoff=26,
                      tickfont=dict(family=SERIF, size=36, color='black'))
    layout[yk] = axis(domain=dy(RIGHT_Y[k], RIGHT_Y[k + 1]), range=p['rng'], anchor=xa, dtick=p['dt'], tick0=0,
                      ticklen=16, minor=minor(p['mdt'], 8), ticklabelstandoff=10,
                      tickfont=dict(family=SERIF, size=33, color='black'))

# ---------------- shapes ----------------
shapes = [
    dict(type='line', xref='x', yref='paper', x0=MARK_DASHED_HJD, x1=MARK_DASHED_HJD,
         y0=1 - 1372 / H, y1=1 - 54 / H, line=dict(color='black', width=2, dash='26px,12px')),
    dict(type='line', xref='x', yref='paper', x0=MARK_GREEN_HJD, x1=MARK_GREEN_HJD,
         y0=1 - 1372 / H, y1=1 - 845 / H, line=dict(color='#2f9a2f', width=2.2)),
]
for k in range(5):
    xa, ya, _, _ = names(6 + k)
    shapes.append(dict(type='line', xref=xa, yref=ya, x0=CCF_LAG_PEAK[k], x1=CCF_LAG_PEAK[k],
                       y0=-0.1, y1=1.1, line=dict(color='black', width=3.5, dash='3px,3px')))


# ---------------- annotations ----------------
def txt(text, x, y, size, xanchor='left', yanchor='middle', family=SERIF, angle=0, **kw):
    return dict(text=text, x=x / W, y=1 - y / H, xref='paper', yref='paper', showarrow=False,
                xanchor=xanchor, yanchor=yanchor, textangle=angle,
                font=dict(family=family, size=size, color='black'), **kw)


F1158_LABEL = 'F<sub>λ</sub> (1158 Å)'
F5100_LABEL = 'F<sub>λ</sub> (5100 Å)'
HB_LABEL = 'H<i>β</i>'
HE_LABEL = 'He II'

ann = [
    txt(F1158_LABEL, 203, 110, 36),
    txt(F5100_LABEL, 203, 375, 36),
    txt('V band', 203, 637, 36),
    txt(HB_LABEL, 203, 903, 36),
    txt(HE_LABEL, 203, 1165, 36),
    txt('De Rosa+ 2015', 1003, 283, 51, xanchor='right', family=SANS),
    txt('Fausnaugh+ 2016', 1013, 810, 51, xanchor='right', family=SANS),
    txt('Flux', 32, 713, 40, xanchor='center', angle=-90),
    txt('HJD − 2450000', 593, 1467, 40, xanchor='center'),
    txt('Lag (days)', 1204, 1466, 41, xanchor='center'),
    txt('Cross−Correlation Coefficient', 1468, 749, 41, xanchor='center', angle=90),
    txt(F1158_LABEL, 1721, 55, 34),
    txt(HB_LABEL, 1721, 285, 34),
    txt(HE_LABEL, 1721, 516, 34),
    txt(F1158_LABEL, 1721, 749, 34),
    txt(HB_LABEL, 1721, 982, 34),
    txt(HE_LABEL, 1721, 1212, 34),
    txt('scaled errors', 2494, 912, 35, xanchor='right'),
    txt('scaled errors', 2494, 1143, 35, xanchor='right'),
    txt('scaled errors', 2494, 1375, 35, xanchor='right'),
    txt('Relative Flux', 1571, 717, 37, xanchor='center', angle=-90),
    txt('HJD − 2450000', 2101, 1484, 40, xanchor='center', yanchor='top'),
    txt('<b>1</b>', 2522, 1486, 40, yanchor='top', family=SANS),
]

fig.update_layout(width=W, height=H, margin=dict(l=0, r=0, t=0, b=0), paper_bgcolor='white',
                  plot_bgcolor='white', showlegend=False, shapes=shapes, annotations=ann, **layout)
fig.write_html("out.html")
